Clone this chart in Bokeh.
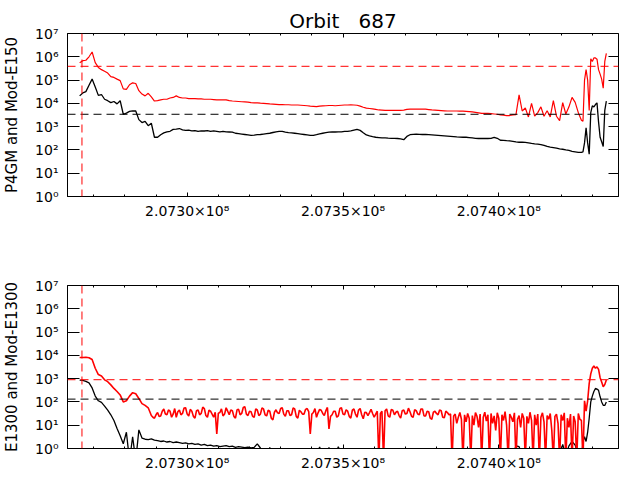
from bokeh.plotting import figure
from bokeh.models import Span, LogAxis, LinearAxis, FixedTicker, Range1d
from bokeh.layouts import column
from bokeh.embed import file_html
from bokeh.resources import INLINE

TITLE = "Orbit\u00a0\u00a0\u00a0687"
YLABEL_TOP = "P4GM and Mod-E150"
YLABEL_BOT = "E1300 and Mod-E1300"

X_TICKS = [207300000, 207350000, 207400000]
X_TICK_LABELS = ["2.0730×10⁸", "2.0735×10⁸", "2.0740×10⁸"]
X_MINOR = [207270000, 207280000, 207290000, 207300000, 207310000, 207320000,
           207330000, 207340000, 207350000, 207360000, 207370000, 207380000,
           207390000, 207400000, 207410000, 207420000, 207430000]
Y_TICKS = [1, 10, 100, 1000, 10000, 100000, 1000000, 10000000]
Y_TICK_LABELS = ["10⁰", "10¹", "10²", "10³", "10⁴", "10⁵", "10⁶", "10⁷"]
X_START, X_END = 207261600, 207438400
Y_START, Y_END = 1, 1e7

T_MARK = 207266240
TOP_RED_LEVEL = 3.9e5
TOP_BLACK_LEVEL = 3.4e3
BOT_RED_LEVEL = 900
BOT_BLACK_LEVEL = 132

# time (s)
T = [207265500, 207266500, 207267500, 207268500, 207269500, 207270500, 207271500, 207272500, 207273500, 207274500,
     207275500, 207276500, 207277500, 207278500, 207279500, 207280500, 207281500, 207282500, 207283500, 207284500,
     207285500, 207286500, 207287500, 207288500, 207289500, 207290500, 207291500, 207292500, 207293500, 207294500,
     207295500, 207296500, 207297500, 207298500, 207299500, 207300500, 207301500, 207302500, 207303500, 207304500,
     207305500, 207306500, 207307500, 207308500, 207309500, 207310500, 207311500, 207312500, 207313500, 207314500,
     207315500, 207316500, 207317500, 207318500, 207319500, 207320500, 207321500, 207322500, 207323500, 207324500,
     207325500, 207326500, 207327500, 207328500, 207329500, 207330500, 207331500, 207332500, 207333500, 207334500,
     207335500, 207336500, 207337500, 207338500, 207339500, 207340500, 207341500, 207342500, 207343500, 207344500,
     207345500, 207346500, 207347500, 207348500, 207349500, 207350500, 207351500, 207352500, 207353500, 207354500,
     207355500, 207356500, 207357500, 207358500, 207359500, 207360500, 207361500, 207362500, 207363500, 207364500,
     207365500, 207366500, 207367500, 207368500, 207369500, 207370500, 207371500, 207372500, 207373500, 207374500,
     207375500, 207376500, 207377500, 207378500, 207379500, 207380500, 207381500, 207382500, 207383500, 207384500,
     207385500, 207386500, 207387500, 207388500, 207389500, 207390500, 207391500, 207392500, 207393500, 207394500,
     207395500, 207396500, 207397500, 207398500, 207399500, 207400500, 207401500, 207402500, 207403500, 207404500,
     207405500, 207406500, 207407500, 207408500, 207409500, 207410500, 207411500, 207412500, 207413500, 207414500,
     207415500, 207416500, 207417500, 207418500, 207419500, 207420500, 207421500, 207422500, 207423500, 207424500,
     207425500, 207426500,
     207427000, 207427500, 207428000, 207428500, 207429000, 207429500, 207430000, 207430500,
     207431000, 207431500, 207432000, 207432500, 207433000, 207433500, 207434000, 207434500]

# finer time base for the noisy E1300 stretch (s)
T_FINE = [207288500, 207289000, 207289500, 207290000, 207290500, 207291000, 207291500, 207292000, 207292500, 207293000,
          207293500, 207294000, 207294500, 207295000, 207295500, 207296000, 207296500, 207297000, 207297500, 207298000,
          207298500, 207299000, 207299500, 207300000, 207300500, 207301000, 207301500, 207302000, 207302500, 207303000,
          207303500, 207304000, 207304500, 207305000, 207305500, 207306000, 207306500, 207307000, 207307500, 207308000,
          207308500, 207309000, 207309500, 207310000, 207310500, 207311000, 207311500, 207312000, 207312500, 207313000,
          207313500, 207314000, 207314500, 207315000, 207315500, 207316000, 207316500, 207317000, 207317500, 207318000,
          207318500, 207319000, 207319500, 207320000, 207320500, 207321000, 207321500, 207322000, 207322500, 207323000,
          207323500, 207324000, 207324500, 207325000, 207325500, 207326000, 207326500, 207327000, 207327500, 207328000,
          207328500, 207329000, 207329500, 207330000, 207330500, 207331000, 207331500, 207332000, 207332500, 207333000,
          207333500, 207334000, 207334500, 207335000, 207335500, 207336000, 207336500, 207337000, 207337500, 207338000,
          207338500, 207339000, 207339500, 207340000, 207340500, 207341000, 207341500, 207342000, 207342500, 207343000,
          207343500, 207344000, 207344500, 207345000, 207345500, 207346000, 207346500, 207347000, 207347500, 207348000,
          207348500, 207349000, 207349500, 207350000, 207350500, 207351000, 207351500, 207352000, 207352500, 207353000,
          207353500, 207354000, 207354500, 207355000, 207355500, 207356000, 207356500, 207357000, 207357500, 207358000,
          207358500, 207359000, 207359500, 207360000, 207360500, 207361000, 207361500, 207362000, 207362500, 207363000,
          207363500, 207364000, 207364500, 207365000, 207365500, 207366000, 207366500, 207367000, 207367500, 207368000,
          207368500, 207369000, 207369500, 207370000, 207370500, 207371000, 207371500, 207372000, 207372500, 207373000,
          207373500, 207374000, 207374500, 207375000, 207375500, 207376000, 207376500, 207377000, 207377500, 207378000,
          207378500, 207379000, 207379500, 207380000, 207380500, 207381000, 207381500, 207382000, 207382500, 207383000,
          207383500, 207384000, 207384500, 207385000, 207385500, 207386000, 207386500, 207387000, 207387500, 207388000,
          207388500, 207389000, 207389500, 207390000, 207390500, 207391000, 207391500, 207392000, 207392500, 207393000,
          207393500, 207394000, 207394500, 207395000, 207395500, 207396000, 207396500, 207397000, 207397500, 207398000,
          207398500, 207399000, 207399500, 207400000, 207400500, 207401000, 207401500, 207402000, 207402500, 207403000,
          207403500, 207404000, 207404500, 207405000, 207405500, 207406000, 207406500, 207407000, 207407500, 207408000,
          207408500, 207409000, 207409500, 207410000, 207410500, 207411000, 207411500, 207412000, 207412500, 207413000,
          207413500, 207414000, 207414500, 207415000, 207415500, 207416000, 207416500, 207417000, 207417500, 207418000,
          207418500, 207419000, 207419500, 207420000, 207420500, 207421000, 207421500, 207422000, 207422500, 207423000,
          207423500, 207424000, 207424500, 207425000, 207425500, 207426000, 207426500]

# top panel: P4GM (red) and Mod-E150 (black), on T
P4GM = [5.6e5, 6.8e5, 7.1e5, 1.0e6, 1.6e6, 5.6e5, 3.5e5, 2.8e5, 2.4e5, 2.0e5,
        1.4e5, 1.3e5, 1.1e5, 9.5e4, 4.2e4, 4.0e4, 6.3e4, 7.6e4, 7.1e4, 3.5e4,
        2.5e4, 2.1e4, 2.7e4, 1.9e4, 1.26e4, 1.3e4, 1.4e4, 1.5e4, 1.5e4, 1.7e4,
        1.8e4, 2.1e4, 1.8e4, 1.7e4, 1.7e4, 1.6e4, 1.6e4, 1.6e4, 1.55e4, 1.55e4,
        1.5e4, 1.5e4, 1.5e4, 1.45e4, 1.4e4, 1.4e4, 1.4e4, 1.4e4, 1.3e4, 1.26e4,
        1.23e4, 1.2e4, 1.17e4, 1.15e4, 1.12e4, 1.07e4, 1.05e4, 1.05e4, 1.02e4, 1.0e4,
        9.8e3, 9.5e3, 9.3e3, 9.1e3, 8.9e3, 8.9e3, 8.7e3, 8.7e3, 8.5e3, 8.5e3,
        8.5e3, 8.3e3, 8.1e3, 7.9e3, 7.6e3, 7.4e3, 7.2e3, 7.6e3, 7.8e3, 7.9e3,
        8.1e3, 8.1e3, 7.9e3, 8.1e3, 8.3e3, 8.5e3, 8.5e3, 8.7e3, 8.5e3, 8.3e3,
        7.6e3, 6.8e3, 6.2e3, 6.0e3, 5.8e3, 5.5e3, 5.2e3, 5.1e3, 5.0e3, 5.0e3,
        5.0e3, 5.0e3, 5.0e3, 5.0e3, 5.1e3, 5.5e3, 5.6e3, 5.6e3, 5.6e3, 5.6e3,
        5.6e3, 5.6e3, 5.4e3, 5.2e3, 5.1e3, 5.0e3, 4.9e3, 4.8e3, 4.7e3, 4.7e3,
        4.7e3, 4.7e3, 4.6e3, 4.6e3, 4.5e3, 4.4e3, 4.3e3, 4.1e3, 3.9e3, 3.7e3,
        3.7e3, 3.7e3, 3.6e3, 3.5e3, 3.4e3, 3.2e3, 3.1e3, 3.0e3, 3.0e3, 3.2e3,
        3.3e3, 2.3e4, 4.7e3, 6.3e3, 2.6e3, 1.0e4, 2.8e3, 4.0e3, 7.1e3, 2.8e3,
        4.8e3, 2.6e3, 1.3e4, 2.8e3, 1.8e3, 1.07e4, 3.5e3, 7.1e3, 1.8e4, 1.1e4,
        4.0e3, 1.9e3,
        1.7e3, 1.0e5, 2.8e5, 1.0e5, 5.0e3, 8.3e5, 6.3e5, 8.9e5,
        8.9e5, 7.9e5, 2.8e5, 1.8e5, 1.1e5, 4.5e4, 6.3e5, 1.4e6]

MOD_E150 = [2.1e4, 2.8e4, 3.2e4, 6.0e4, 1.1e5, 5.0e4, 2.2e4, 2.4e4, 1.5e4, 1.3e4,
            1.07e4, 1.2e4, 9.5e3, 1.3e4, 3.4e3, 3.8e3, 4.5e3, 4.8e3, 4.7e3, 2.0e3,
            1.5e3, 1.7e3, 1.1e3, 1.4e3, 350, 350, 450, 540, 600, 630,
            760, 790, 830, 720, 690, 710, 660, 680, 630, 660,
            650, 680, 630, 660, 630, 600, 630, 600, 590, 580,
            520, 500, 480, 460, 440, 420, 430, 450, 460, 480,
            500, 520, 560, 600, 630, 630, 580, 550, 540, 520,
            500, 480, 460, 440, 420, 420, 450, 490, 520, 550,
            580, 590, 590, 600, 600, 630, 630, 660, 710, 760,
            690, 550, 440, 400, 370, 350, 340, 330, 330, 320,
            316, 316, 310, 300, 275, 380, 450, 470, 480, 470,
            460, 460, 450, 440, 430, 420, 410, 400, 390, 380,
            370, 360, 355, 350, 350, 340, 330, 316, 310, 310,
            310, 310, 316, 350, 316, 260, 257, 250, 245, 235,
            224, 214, 214, 209, 200, 190, 182, 178, 170, 158,
            141, 132, 126, 120, 112, 107, 100, 95, 87, 83,
            79, 79,
            83, 200, 890, 200, 66, 4.0e3, 7.8e3, 7.1e3,
            8.9e3, 1.05e4, 1.6e3, 350, 224, 141, 5.0e3, 1.26e4]

# bottom panel, red E1300: start (on T[:23]), noisy stretch (on T_FINE), end (on T[162:])
E1300_START = [8.1e3, 8.1e3, 8.3e3, 7.9e3, 6.6e3, 2.8e3, 1.5e3, 1.3e3, 890, 740,
               540, 380, 280, 200, 100, 112, 178, 250, 224, 141,
               85, 71, 56]
E1300_NOISY = [26, 22, 20, 28, 35, 24, 25, 40, 50, 30,
               28, 45, 40, 22, 30, 52, 22, 38, 45, 28,
               32, 55, 56, 30, 25, 48, 40, 24, 20, 42,
               45, 28, 32, 60, 52, 26, 22, 44, 40, 30,
               22, 36, 4.2, 33, 35, 50, 25, 30, 56, 40,
               28, 45, 42, 24, 20, 46, 48, 28, 32, 58,
               63, 30, 26, 40, 38, 24, 22, 50, 45, 26,
               30, 55, 50, 28, 25, 44, 40, 20, 17, 36,
               46, 34, 32, 52, 56, 30, 24, 42, 42, 26,
               28, 55, 50, 24, 20, 44, 38, 30, 30, 48,
               52, 38, 4.2, 30, 35, 52, 22, 34, 48, 44,
               32, 26, 42, 58, 7, 24, 28, 40, 40, 22,
               25, 52, 56, 30, 28, 46, 40, 24, 20, 44,
               50, 30, 22, 45, 52, 28, 19, 36, 35, 26,
               35, 48, 32, 22, 30, 40, 0.3, 32, 40, 0.3,
               42, 50, 25, 22, 48, 44, 28, 36, 40, 26,
               20, 42, 45, 30, 32, 54, 38, 24, 22, 46,
               42, 30, 28, 50, 50, 25, 25, 40, 38, 20,
               18, 36, 40, 32, 28, 45, 42, 22, 21, 40,
               35, 28, 30,
               0.3, 25, 30, 12, 22, 35, 18, 0.3, 28, 14,
               32, 20, 0.3, 26, 10, 35, 24, 8, 30, 0.3,
               22, 36, 15, 28, 0.3, 32, 12, 25, 6, 34,
               20, 0.3, 28, 16, 38, 10, 0.3, 30, 22, 14,
               34, 0.3, 18, 26, 8, 32, 20, 0.3, 24, 12,
               36, 16, 0.3, 28, 10, 30, 0.3, 22, 34, 14,
               0.3, 26, 18, 32, 6, 0.3, 24, 30, 12, 0.3,
               28, 16, 34, 0.3, 20, 8, 30, 0.3, 25, 14,
               0.3, 32, 18, 16]
E1300_END = [0.3, 112, 40, 112, 630, 1.6e3, 2.8e3, 3.5e3,
             2.8e3, 3.2e3, 2.5e3, 1.1e3, 710, 450, 560, 870]

# bottom panel, black Mod-E1300, on T
MOD_E1300 = [870, 850, 760, 660, 400, 178, 112, 95, 66, 44,
             28, 16, 7.2, 3.5, 1.6, 5, 0.3, 3.2, 0.3, 6.3,
             2.8, 2.5, 2.4, 2.6, 2.3, 2.2, 2.0, 2.1, 1.9, 2.0,
             1.8, 1.9, 1.8, 1.66, 1.74, 1.58, 1.66, 1.5, 1.58, 1.41,
             1.5, 1.32, 1.41, 1.26, 1.32, 1.2, 1.26, 1.32, 1.2, 1.26,
             1.12, 1.2, 1.15, 1.1, 1.15, 1.07, 1.12, 1.58, 1.05, 0.63,
             0.5, 1.1, 0.5, 0.5, 0.5, 0.5, 0.5, 0.5, 0.5, 0.5,
             0.5, 0.5, 0.5, 0.5, 0.5, 0.5, 0.5, 1.15, 0.5, 0.5,
             1.1, 0.5, 0.5, 1.2, 0.5, 0.5, 0.5, 0.5, 0.5, 0.5,
             0.5, 0.5, 0.5, 0.5, 0.5, 0.5, 0.5, 0.5, 0.5, 0.5,
             0.5, 0.5, 0.5, 0.5, 0.5, 0.5, 0.5, 0.5, 0.5, 0.5,
             0.5, 0.5, 0.5, 0.5, 0.5, 0.5, 0.5, 0.5, 0.5, 0.5,
             0.5, 0.5, 0.5, 0.5, 0.5, 0.5, 0.5, 0.5, 0.5, 0.5,
             0.5, 0.5, 0.5, 0.5, 0.5, 0.5, 0.5, 0.5, 0.5, 0.5,
             1.3, 1.2, 0.5, 0.5, 0.5, 0.5, 0.5, 0.5, 0.5, 0.5,
             0.5, 0.5, 0.5, 0.5, 0.5, 1.5, 0.5, 1.3, 2.0, 1.4,
             0.5, 0.3,
             2.0, 3.2, 2.0, 5.0, 20, 100, 178, 280,
             380, 355, 316, 166, 100, 72, 71, 100]

FONT = "DejaVu Sans"


def make_fig(height, top, bottom, ylabel):
    p = figure(width=621, height=height,
               x_range=Range1d(X_START, X_END), y_range=Range1d(Y_START, Y_END),
               y_axis_type="log", output_backend="svg", toolbar_location=None,
               min_border_left=58, min_border_right=3,
               min_border_top=top, min_border_bottom=bottom)
    p.grid.visible = False
    p.outline_line_color = "black"
    p.outline_line_width = 1
    p.outline_line_alpha = 1
    p.background_fill_color = "white"
    p.border_fill_color = "white"

    xa = p.xaxis[0]
    xa.ticker = FixedTicker(ticks=X_TICKS, minor_ticks=X_MINOR)
    xa.major_label_overrides = dict(zip(X_TICKS, X_TICK_LABELS))
    xa.major_tick_in = 4
    xa.major_tick_out = 0
    xa.minor_tick_in = 2
    xa.minor_tick_out = 0
    xa.major_label_standoff = 6
    xa.major_label_text_font = FONT
    xa.major_label_text_font_size = "14px"
    xa.major_label_text_color = "black"
    xa.axis_line_color = "black"
    xa.major_tick_line_color = "black"
    xa.minor_tick_line_color = "black"

    ya = p.yaxis[0]
    ya.ticker = FixedTicker(ticks=Y_TICKS, minor_ticks=[])
    ya.major_label_overrides = dict(zip(Y_TICKS, Y_TICK_LABELS))
    ya.major_tick_in = 12
    ya.major_tick_out = 0
    ya.minor_tick_in = 0
    ya.minor_tick_out = 0
    ya.major_label_standoff = 9
    ya.major_label_text_font = FONT
    ya.major_label_text_font_size = "14px"
    ya.major_label_text_color = "black"
    ya.axis_line_color = "black"
    ya.major_tick_line_color = "black"
    ya.axis_label = ylabel
    ya.axis_label_text_font = FONT
    ya.axis_label_text_font_size = "15px"
    ya.axis_label_text_font_style = "normal"
    ya.axis_label_text_color = "black"
    ya.axis_label_standoff = 11

    ra = LogAxis(ticker=FixedTicker(ticks=Y_TICKS, minor_ticks=[]),
                 major_label_overrides={t: "" for t in Y_TICKS},
                 major_tick_in=10, major_tick_out=0, minor_tick_in=0, minor_tick_out=0,
                 major_label_text_font_size="1px", major_label_text_color=None,
                 major_label_standoff=0,
                 axis_line_color=None, major_tick_line_color="black")
    p.add_layout(ra, "right")
    ta = LinearAxis(ticker=FixedTicker(ticks=X_TICKS, minor_ticks=X_MINOR),
                    major_label_overrides={t: "" for t in X_TICKS},
                    major_tick_in=4, major_tick_out=0, minor_tick_in=2, minor_tick_out=0,
                    major_label_text_font_size="1px", major_label_text_color=None,
                    major_label_standoff=0,
                    axis_line_color=None, major_tick_line_color="black",
                    minor_tick_line_color="black")
    p.add_layout(ta, "above")
    return p


p1 = make_fig(248, 33, 52, YLABEL_TOP)
p1.title.text = TITLE
p1.title.align = "center"
p1.title.text_font = FONT
p1.title.text_font_size = "20px"
p1.title.text_font_style = "normal"
p1.title.text_color = "black"
p1.title.standoff = 2
p1.line(T, MOD_E150, line_color="black", line_width=1.3)
p1.line(T, P4GM, line_color="red", line_width=1.2)
p1.add_layout(Span(location=TOP_RED_LEVEL, dimension="width", line_color="red",
                   line_dash="8 5", line_width=1))
p1.add_layout(Span(location=TOP_BLACK_LEVEL, dimension="width", line_color="black",
                   line_dash="8 5", line_width=1))
p1.add_layout(Span(location=T_MARK, dimension="height", line_color="red",
                   line_dash="8 5", line_width=1))

T_E1300 = T[:23] + T_FINE + T[162:]
E1300 = E1300_START + E1300_NOISY + E1300_END
n_e = min(len(T_E1300), len(E1300))

p2 = make_fig(230, 37, 30, YLABEL_BOT)
p2.line(T, MOD_E1300, line_color="black", line_width=1.3)
p2.line(T_E1300[:n_e], E1300[:n_e], line_color="red", line_width=1.6)
p2.add_layout(Span(location=BOT_RED_LEVEL, dimension="width", line_color="red",
                   line_dash="8 5", line_width=1))
p2.add_layout(Span(location=BOT_BLACK_LEVEL, dimension="width", line_color="black",
                   line_dash="8 5", line_width=1))
p2.add_layout(Span(location=T_MARK, dimension="height", line_color="red",
                   line_dash="8 5", line_width=1))

layout = column(p1, p2, spacing=0)
open("out.html", "w").write(file_html(layout, INLINE))
